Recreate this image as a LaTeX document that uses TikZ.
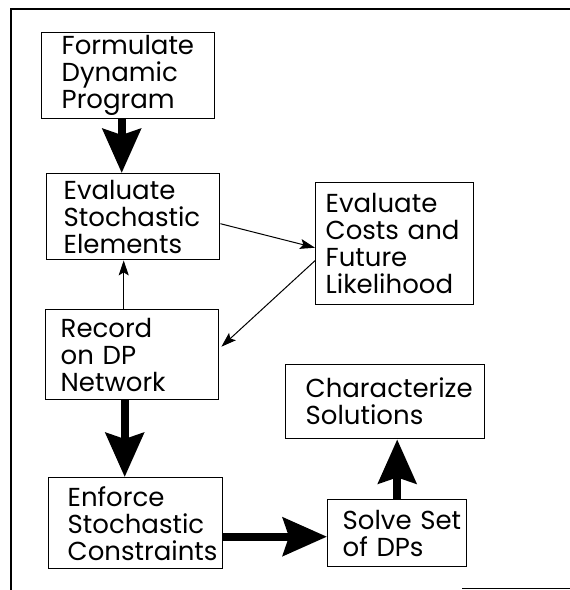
\documentclass[tikz,border=0pt]{standalone}
\usepackage{fontspec}
\setmainfont{Poppins}
\usetikzlibrary{arrows.meta}
\tikzset{
  box/.style={draw, line width=1.4pt, align=left, anchor=north west, inner ysep=0pt,
    font=\fontsize{26}{27}\selectfont},
  thickarrow/.style={line width=8pt, -{Stealth[length=44pt,width=38pt,inset=6pt]}},
  thinarrow/.style={line width=1pt, -{Stealth[length=15pt,width=10pt,inset=3pt]}},
  frame/.style={line width=1.8pt}
}
\begin{document}
\begin{tikzpicture}[x=1pt,y=-1pt]
\useasboundingbox (0,0) rectangle (570,590);
% frame
\draw[frame] (11,590) -- (11,9) -- (570,9);
\draw[frame] (462,588.5) -- (570,588.5);
% boxes
\node[box, inner xsep=20pt, text width=133pt, minimum height=86pt] (f) at (41,32) {Formulate\\Dynamic\\Program};
\node[box, inner xsep=17pt, text width=139pt, minimum height=86pt] (es) at (46,173) {Evaluate\\Stochastic\\Elements};
\node[box, inner xsep=10pt, text width=138pt, minimum height=122pt] (ec) at (315,182) {Evaluate\\Costs~and\\Future\\Likelihood};
\node[box, inner xsep=15pt, text width=143pt, minimum height=90pt] (r) at (45,309) {Record\\on~DP\\Network};
\node[box, inner xsep=19pt, text width=136pt, minimum height=91pt] (en) at (48,477) {Enforce\\Stochastic\\Constraints};
\node[box, inner xsep=15pt, text width=109pt, minimum height=67pt] (so) at (327,499) {Solve~Set\\of~DPs};
\node[box, inner xsep=20pt, text width=159pt, minimum height=74pt] (ch) at (285,364) {Characterize\\Solutions};
% connectors
\draw[thickarrow] ([xshift=-6.5pt]f.south) -- ([xshift=-6.5pt]f.south |- es.north);
\draw[thinarrow] ([yshift=-7pt]es.east) -- ([yshift=-4pt]ec.west);
\draw[thinarrow] ([yshift=-17pt]ec.west) -- ([yshift=8pt,xshift=2pt]r.east);
\draw[thinarrow] ([xshift=-8.5pt]r.north) -- ([xshift=-8.5pt]r.north |- es.south);
\draw[thickarrow] ([xshift=-7.5pt]r.south) -- ([xshift=-7.5pt]r.south |- en.north);
\draw[thickarrow] ([yshift=-13.5pt]en.east) -- ([yshift=-13.5pt]en.east -| so.west);
\draw[thickarrow] (so.north) -- (so.north |- ch.south);
\end{tikzpicture}
\end{document}
